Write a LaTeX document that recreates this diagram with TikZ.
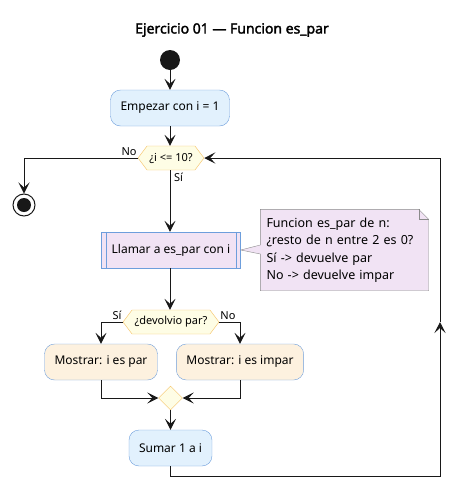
\documentclass[tikz,border=0pt]{standalone}
\usepackage{fontspec}
\setmainfont{Noto Sans}
\newfontfamily\titulofont{Noto Sans}[FakeBold=2.2]
\usetikzlibrary{arrows.meta,shapes.geometric,shapes.symbols}
\definecolor{actblue}{HTML}{E2F1FD}
\definecolor{actlila}{HTML}{F1E3F4}
\definecolor{actnaranja}{HTML}{FDF1DF}
\definecolor{borde}{HTML}{6D9EDC}
\definecolor{decfill}{HTML}{FEFDE5}
\definecolor{decborde}{HTML}{F5BF5F}
\definecolor{notaborde}{HTML}{8A8A8A}
\definecolor{linea}{HTML}{181818}
\tikzset{
  accion/.style = {draw=borde, rounded corners=10pt, minimum height=36pt,
    inner xsep=10pt, font=\fontsize{12}{14}\selectfont},
  decision/.style = {signal, signal to=west and east, signal pointer angle=106,
    draw=decborde, fill=decfill, minimum height=24pt, inner xsep=2pt,
    font=\fontsize{11}{13}\selectfont},
  flujo/.style = {draw=linea, line width=1pt,
    -{Stealth[length=11pt,width=11pt,inset=5pt]}},
  etiq/.style = {font=\fontsize{11}{13}\selectfont, inner sep=1pt}
}
\begin{document}
\begin{tikzpicture}[x=1pt,y=-1pt]
	\useasboundingbox (0,0) rectangle (465,499);
	\node[font=\titulofont\fontsize{14}{16}\selectfont] (titulo) at (232,30) {Ejercicio 01 — Funcion es\_par};
	
	\node[circle, fill=linea, minimum size=20pt, inner sep=0pt] (inicio) at (170,60) {};
	\node[accion, fill=actblue] (empezar) at (170,108) {Empezar con i = 1};
	\node[decision, minimum width=66pt] (cond) at (171,158) {¿i <= 10?};
	\node[circle, draw=linea, line width=1pt, fill=white, minimum size=22pt, inner sep=0pt] (fin) at (24,205) {};
	\fill[linea] (fin.center) circle (7pt);
	
	\node[accion, fill=actlila, rounded corners=0pt, minimum width=139pt] (llamar) at (171,250) {Llamar a es\_par con i};
	\draw[borde] ([xshift=5pt]llamar.north west) -- ([xshift=5pt]llamar.south west);
	\draw[borde] ([xshift=-5pt]llamar.north east) -- ([xshift=-5pt]llamar.south east);
	
	% nota con esquina doblada
	\node[align=left, text width=156pt, inner xsep=6pt, minimum height=81pt,
	      font=\fontsize{12.5}{17.5}\selectfont] (nota) at (344.5,250)
	      {Funcion es\_par de n:\\¿resto de n entre 2 es 0?\\Sí -> devuelve par\\No -> devuelve impar};
	\draw[notaborde, fill=actlila] (nota.north west) -- ([xshift=-10pt]nota.north east)
	  -- ([yshift=-10pt]nota.north east) -- (nota.south east) -- (nota.south west)
	  -- ([yshift=-4pt]nota.west) -- (llamar.east) -- ([yshift=5pt]nota.west) -- cycle;
	\draw[notaborde] ([xshift=-10pt]nota.north east) |- ([yshift=-10pt]nota.north east);
	\node[align=left, text width=156pt, inner xsep=6pt, minimum height=81pt,
	      font=\fontsize{12.5}{17.5}\selectfont] at (nota.center)
	      {Funcion es\_par de n:\\¿resto de n entre 2 es 0?\\Sí -> devuelve par\\No -> devuelve impar};
	
	\node[decision, minimum width=96pt] (par) at (171,322) {¿devolvio par?};
	\node[accion, fill=actnaranja] (espar) at (101,362) {Mostrar: i es par};
	\node[accion, fill=actnaranja] (esimpar) at (240,362) {Mostrar: i es impar};
	\node[diamond, draw=decborde, fill=decfill, minimum size=24pt, inner sep=0pt] (union) at (170.5,398) {};
	\node[accion, fill=actblue] (sumar) at (170.5,448) {Sumar 1 a i};
	
	\coordinate (vueltaA) at (440,476);
	\coordinate (vueltaB) at (440,322);
	
	\draw[flujo] (inicio) -- (empezar);
	\draw[flujo] (empezar.south) -- (empezar.south |- cond.north);
	\draw[flujo] (cond.west) -| (fin);
	\node[etiq, anchor=south east] at ([yshift=1pt]cond.west) {No};
	\draw[flujo] (cond.south -| empezar.south) -- (llamar.north -| empezar.south);
	\node[etiq, anchor=north west] at ([xshift=3pt,yshift=-2pt]cond.south -| empezar.south) {Sí};
	\draw[flujo] (llamar.south -| empezar.south) -- (par.north -| empezar.south);
	\draw[flujo] (par.west) -| (espar.north);
	\node[etiq, anchor=south east] at ([yshift=1pt]par.west) {Sí};
	\draw[flujo] (par.east) -| (esimpar.north);
	\node[etiq, anchor=south west] at ([yshift=1pt]par.east) {No};
	\draw[flujo] (espar.south) |- (union.west);
	\draw[flujo] (esimpar.south) |- (union.east);
	\draw[flujo] (union) -- (sumar);
	\draw[flujo] (sumar.south) |- (vueltaA) -- (vueltaB);
	\draw[flujo] (vueltaB) |- (cond.east);
	
\end{tikzpicture}
\end{document}
